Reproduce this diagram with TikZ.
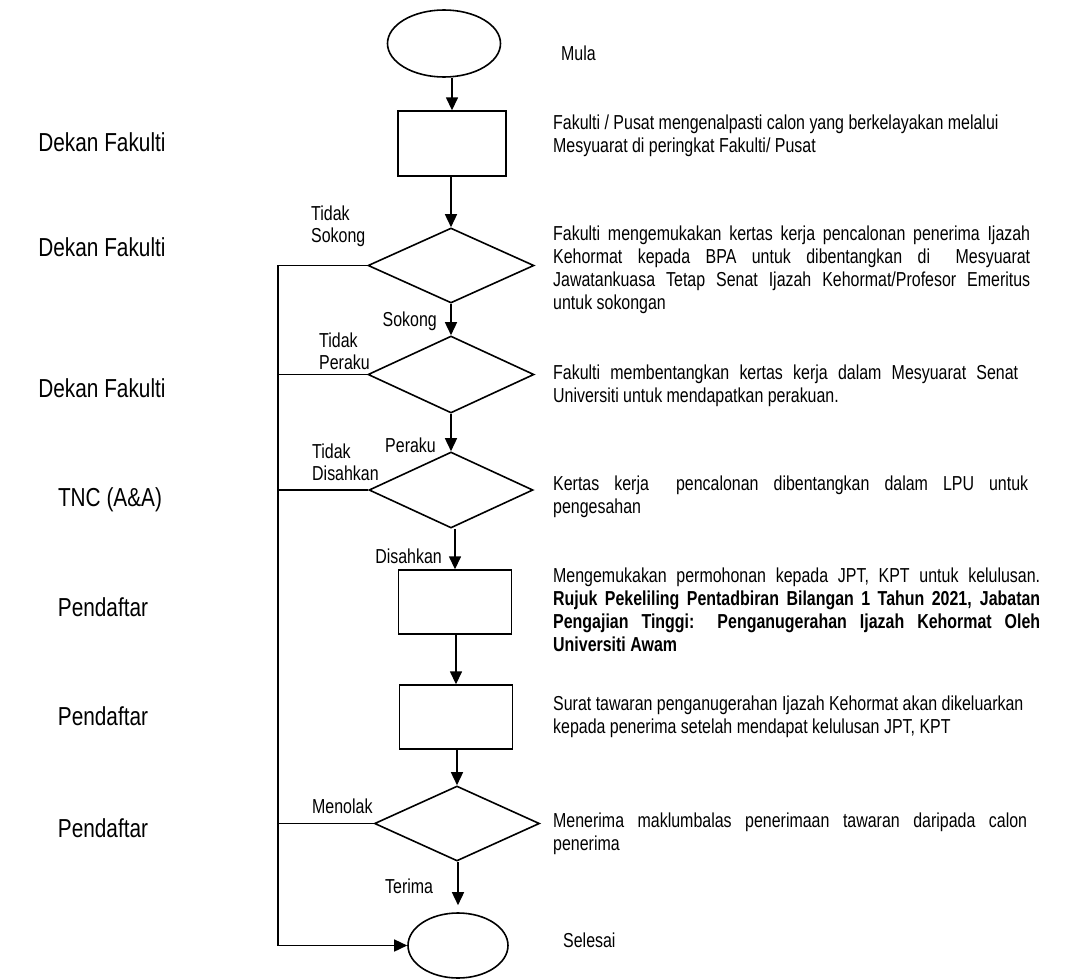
\documentclass[tikz,border=0pt]{standalone}
\usepackage{fontspec}
\setmainfont{Liberation Sans}
\newfontfamily\nar[FakeStretch=0.79]{Liberation Sans}
\newfontfamily\labf[FakeStretch=0.8]{Liberation Sans}
\usetikzlibrary{shapes.geometric,arrows.meta}
\newcommand{\jline}[2]{\makebox[#1][s]{#2}}
\begin{document}
\begin{tikzpicture}[x=1pt,y=-1pt,
  term/.style={draw, ellipse, line width=1.6pt, inner sep=0pt},
  proc/.style={draw, rectangle, line width=1.4pt, inner sep=0pt},
  dec/.style={draw, diamond, line width=1.6pt, inner sep=0pt},
  arr/.style={line width=1.5pt, -{Triangle[length=13pt,width=12pt]}},
  lin/.style={line width=1.4pt},
  desc/.style={anchor=north west, inner sep=0pt, align=left, font=\nar\fontsize{20.2}{23}\selectfont},
  lab/.style={inner sep=0pt, align=left, font=\nar\fontsize{20.2}{22}\selectfont},
  role/.style={inner sep=0pt, anchor=base, font=\labf\fontsize{26}{30}\selectfont}]
\fill[white] (0,0) rectangle (1080,980);
\useasboundingbox (0,0) rectangle (1080,980);

% flow shapes
\node[term, minimum width=113pt, minimum height=67pt] (s) at (444,43.5) {};
\node[proc, minimum width=108pt, minimum height=65pt] (b1) at (452,143.5) {};
\node[dec, minimum width=166pt, minimum height=75pt] (d1) at (451,265.5) {};
\node[dec, minimum width=166pt, minimum height=77pt] (d2) at (451,374.5) {};
\node[dec, minimum width=164pt, minimum height=76pt] (d3) at (451,490) {};
\node[proc, minimum width=113pt, minimum height=64pt] (b2) at (455,602) {};
\node[proc, minimum width=113pt, minimum height=64pt] (b3) at (456,717) {};
\node[dec, minimum width=165pt, minimum height=75pt] (d4) at (457,823.5) {};
\node[term, minimum width=100pt, minimum height=65pt] (e) at (458,945.5) {};
\coordinate (lx) at (278,0);

% connectors
\draw[arr] (s.south -| b1.north) -- (b1.north);
\draw[arr] (b1.south -| d1.north) -- (d1.north);
\draw[arr] (d1.south) -- (d2.north);
\draw[arr] (d2.south) -- (d3.north);
\draw[arr] (d3.south -| b2.north) -- (b2.north);
\draw[arr] (b2.south -| b3.north) -- (b3.north);
\draw[arr] (b3.south -| d4.north) -- (d4.north);
\draw[arr, shorten >=7pt] (d4.south -| e.north) -- (e.north);
\draw[arr] (d1.west) -- (d1.west -| lx) |- (e.west);
\draw[lin] (d2.west) -- (d2.west -| lx);
\draw[lin] (d3.west) -- (d3.west -| lx);
\draw[lin] (d4.west) -- (d4.west -| lx);

% branch labels
\node[lab, anchor=north west] (l1) at (311,206) {Tidak\\Sokong};
\node[lab, anchor=base east] (l2) at (437,326) {Sokong};
\node[lab, anchor=north west] (l3) at (319,333) {Tidak\\Peraku};
\node[lab, anchor=base east] (l4) at (436,452) {Peraku};
\node[lab, anchor=north west] (l5) at (312,444) {Tidak\\Disahkan};
\node[lab, anchor=base east] (l6) at (442,563) {Disahkan};
\node[lab, anchor=base west] (l7) at (312,813) {Menolak};
\node[lab, anchor=base west] (l8) at (385,893) {Terima};

% roles
\node[role] (r1) at (102,151) {Dekan Fakulti};
\node[role] (r2) at (102,256) {Dekan Fakulti};
\node[role] (r3) at (102,397) {Dekan Fakulti};
\node[role] (r4) at (110,506) {TNC (A\&A)};
\node[role] (r5) at (103,616) {Pendaftar};
\node[role] (r6) at (103,725) {Pendaftar};
\node[role] (r7) at (103,837) {Pendaftar};

% descriptions
\node[desc] (t0) at (561,46) {Mula};
\node[desc] (t1) at (553,115) {Fakulti / Pusat mengenalpasti calon yang berkelayakan melalui\\Mesyuarat di peringkat Fakulti/ Pusat};
\node[desc] (t2) at (553,226) {\jline{477pt}{Fakulti mengemukakan kertas kerja pencalonan penerima Ijazah}\\\jline{477pt}{Kehormat kepada BPA untuk dibentangkan di\hspace{0.5em} Mesyuarat}\\\jline{477pt}{Jawatankuasa Tetap Senat Ijazah Kehormat/Profesor Emeritus}\\untuk sokongan};
\node[desc] (t3) at (553,365) {\jline{465pt}{Fakulti membentangkan kertas kerja dalam Mesyuarat Senat}\\Universiti untuk mendapatkan perakuan.};
\node[desc] (t4) at (553,476) {\jline{475pt}{Kertas kerja\hspace{0.6em} pencalonan dibentangkan dalam LPU untuk}\\pengesahan};
\node[desc] (t5) at (553,568) {\jline{487pt}{Mengemukakan permohonan kepada JPT, KPT untuk kelulusan.}\\\jline{487pt}{\bfseries Rujuk Pekeliling Pentadbiran Bilangan 1 Tahun 2021, Jabatan}\\\jline{487pt}{\bfseries Pengajian Tinggi: Penganugerahan Ijazah Kehormat Oleh}\\{\bfseries Universiti Awam}};
\node[desc] (t6) at (553,696) {Surat tawaran penganugerahan Ijazah Kehormat akan dikeluarkan\\kepada penerima setelah mendapat kelulusan JPT, KPT};
\node[desc] (t7) at (553,813) {\jline{474pt}{Menerima maklumbalas penerimaan tawaran daripada calon}\\penerima};
\node[desc] (t8) at (563,933) {Selesai};
\end{tikzpicture}
\end{document}
